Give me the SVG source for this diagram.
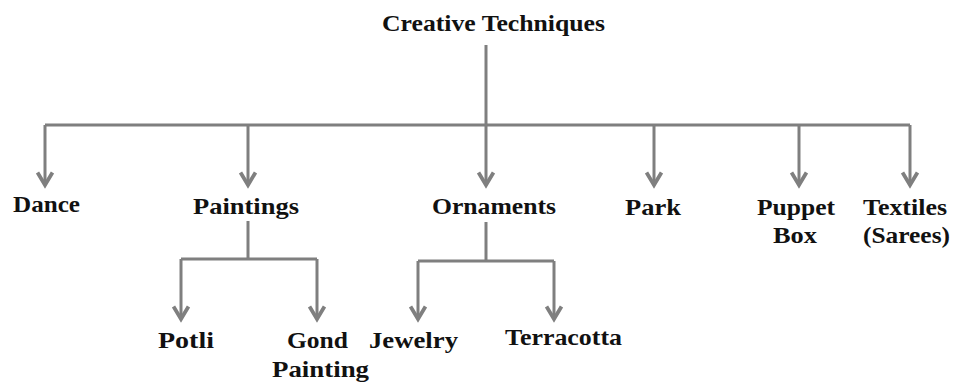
<svg xmlns="http://www.w3.org/2000/svg" width="954" height="383" viewBox="0 0 954 383">
<style>
.t{font-family:"Liberation Serif","Times New Roman",serif;font-weight:bold;font-size:24px;fill:#111}
.c{fill:none;stroke:#7f7f7f;stroke-width:3}
</style>
<defs>
<marker id="ah" markerUnits="userSpaceOnUse" markerWidth="20" markerHeight="20" viewBox="-12 -8 14 16" refX="0" refY="0" orient="auto">
<path d="M-10,-6 L0,0 L-10,6" fill="none" stroke="#7f7f7f" stroke-width="3"/>
</marker>
</defs>
<rect width="954" height="383" fill="#fff"/>
<g id="connectors">
<path class="c" d="M486,45 V125"/>
<path class="c" d="M45,125 H910"/>
<path class="c" d="M45,125 V185" marker-end="url(#ah)"/>
<path class="c" d="M248,125 V185" marker-end="url(#ah)"/>
<path class="c" d="M486,125 V185" marker-end="url(#ah)"/>
<path class="c" d="M654,125 V185" marker-end="url(#ah)"/>
<path class="c" d="M799,125 V185" marker-end="url(#ah)"/>
<path class="c" d="M910,125 V185" marker-end="url(#ah)"/>
<path class="c" d="M248,221 V259"/>
<path class="c" d="M181,259 H317"/>
<path class="c" d="M181,259 V319" marker-end="url(#ah)"/>
<path class="c" d="M317,259 V319" marker-end="url(#ah)"/>
<path class="c" d="M486,222 V261"/>
<path class="c" d="M418,261 H554"/>
<path class="c" d="M418,261 V319" marker-end="url(#ah)"/>
<path class="c" d="M554,261 V319" marker-end="url(#ah)"/>
</g>
<g id="creative-techniques"><text class="t" x="382" y="31" textLength="223" lengthAdjust="spacingAndGlyphs">Creative Techniques</text></g>
<g id="dance"><text class="t" x="13" y="212" textLength="67" lengthAdjust="spacingAndGlyphs">Dance</text></g>
<g id="paintings"><text class="t" x="193" y="214" textLength="106" lengthAdjust="spacingAndGlyphs">Paintings</text></g>
<g id="ornaments"><text class="t" x="432" y="214" textLength="124" lengthAdjust="spacingAndGlyphs">Ornaments</text></g>
<g id="park"><text class="t" x="625" y="215" textLength="56" lengthAdjust="spacingAndGlyphs">Park</text></g>
<g id="puppet-box"><text class="t" x="757" y="215" textLength="78" lengthAdjust="spacingAndGlyphs">Puppet</text><text class="t" x="773" y="243" textLength="44" lengthAdjust="spacingAndGlyphs">Box</text></g>
<g id="textiles"><text class="t" x="863" y="215" textLength="84" lengthAdjust="spacingAndGlyphs">Textiles</text><text class="t" x="863" y="243" textLength="87" lengthAdjust="spacingAndGlyphs">(Sarees)</text></g>
<g id="potli"><text class="t" x="158" y="348" textLength="56" lengthAdjust="spacingAndGlyphs">Potli</text></g>
<g id="gond-painting"><text class="t" x="287" y="348" textLength="61" lengthAdjust="spacingAndGlyphs">Gond</text><text class="t" x="272" y="377" textLength="97" lengthAdjust="spacingAndGlyphs">Painting</text></g>
<g id="jewelry"><text class="t" x="369" y="348" textLength="89" lengthAdjust="spacingAndGlyphs">Jewelry</text></g>
<g id="terracotta"><text class="t" x="505" y="345" textLength="117" lengthAdjust="spacingAndGlyphs">Terracotta</text></g>
</svg>
